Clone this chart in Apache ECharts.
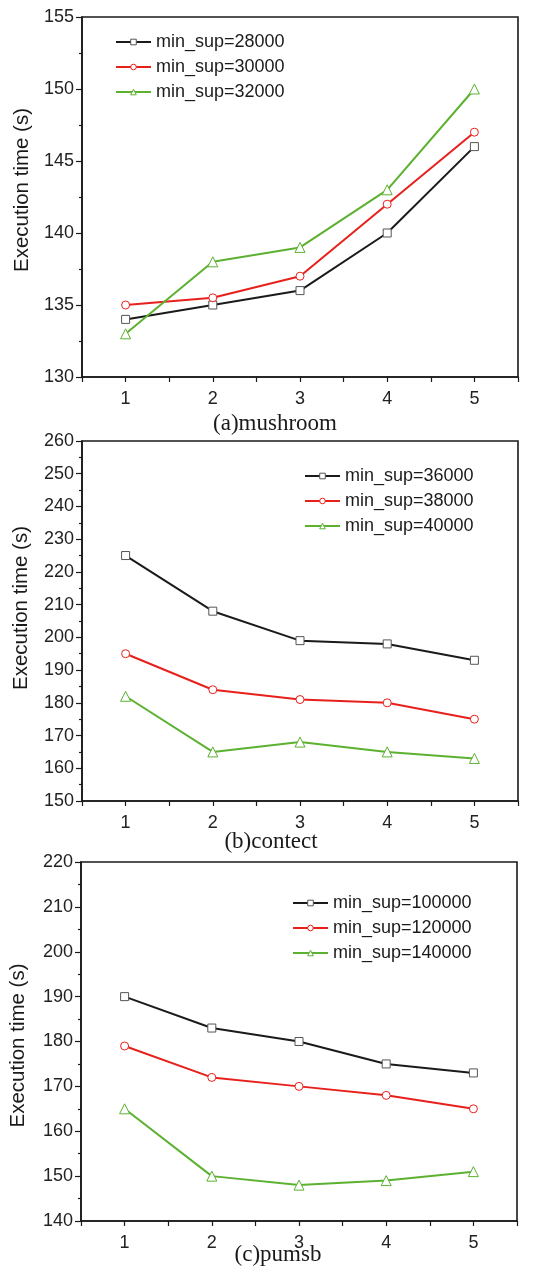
<!DOCTYPE html>
<html><head><meta charset="utf-8">
<script src="https://cdn.jsdelivr.net/npm/echarts@6/dist/echarts.min.js"></script>
<style>html,body{margin:0;padding:0;background:#fff}#c{width:541px;height:1271px}</style>
</head><body><div id="c"></div>
<script>
const xValues = [1, 2, 3, 4, 5];

const mushroomNames = ['min_sup=28000', 'min_sup=30000', 'min_sup=32000'];
const mushroom28000 = [134, 135, 136, 140, 146];
const mushroom30000 = [135, 135.5, 137, 142, 147];
const mushroom32000 = [133, 138, 139, 143, 150];

const contectNames = ['min_sup=36000', 'min_sup=38000', 'min_sup=40000'];
const contect36000 = [225, 208, 199, 198, 193];
const contect38000 = [195, 184, 181, 180, 175];
const contect40000 = [182, 165, 168, 165, 163];

const pumsbNames = ['min_sup=100000', 'min_sup=120000', 'min_sup=140000'];
const pumsb100000 = [190, 183, 180, 175, 173];
const pumsb120000 = [179, 172, 170, 168, 165];
const pumsb140000 = [165, 150, 148, 149, 151];

const panelTitles = ['(a)mushroom', '(b)contect', '(c)pumsb'];
const yTitle = 'Execution time (s)';
const yRanges = [[130, 155, 5], [150, 260, 10], [140, 220, 10]];

const colors = ['#1a1a1a', '#e8201c', '#5cb130'];
const symbols = ['rect', 'circle', 'triangle'];

const panels = [
  {names: mushroomNames, data: [mushroom28000, mushroom30000, mushroom32000]},
  {names: contectNames, data: [contect36000, contect38000, contect40000]},
  {names: pumsbNames, data: [pumsb100000, pumsb120000, pumsb140000]}
];

const grids = [
  {left: 82, right: 23, top: 17, height: 360},
  {left: 82, right: 23, top: 441, height: 360},
  {left: 81, right: 24, top: 862, height: 359}
];
const xNameGaps = [35, 29, 22];
const xNamePads = [[0, 50, 0, 0], [0, 58, 0, 0], [0, 42, 0, 0]];
const yNameGaps = [49, 50, 52];
const yNamePads = [[0, 0, 0, 14], [0, 0, 0, 26], [0, 8, 0, 0]];
const legendPos = [
  {left: 115, top: 33},
  {left: 304, top: 467},
  {left: 292, top: 894}
];

const axisLabelFont = {fontFamily: 'Liberation Sans, Arial, sans-serif', fontSize: 18, color: '#222'};

const option = {
  animation: false,
  backgroundColor: '#fff',
  grid: grids.map(g => Object.assign({show: true, borderColor: '#1a1a1a', borderWidth: 1.6, backgroundColor: 'transparent', containLabel: false, outerBoundsMode: 'none'}, g)),
  xAxis: panelTitles.map((t, i) => ({
    type: 'value', gridIndex: i, min: 0.5, max: 5.5, interval: 0.5,
    name: t, nameLocation: 'middle', nameGap: xNameGaps[i], nameMoveOverlap: false,
    nameTextStyle: {fontFamily: 'Liberation Serif, Times New Roman, serif', fontSize: 23, color: '#1a1a1a', padding: xNamePads[i]},
    axisLine: {lineStyle: {color: '#1a1a1a', width: 1.6}},
    axisTick: {inside: false, length: 5, lineStyle: {color: '#1a1a1a', width: 1.2}},
    axisLabel: Object.assign({margin: 13, formatter: v => Number.isInteger(v) ? String(v) : ''}, axisLabelFont),
    splitLine: {show: false}
  })),
  yAxis: yRanges.map((r, i) => ({
    type: 'value', gridIndex: i, min: r[0], max: r[1], interval: r[2],
    name: yTitle, nameLocation: 'middle', nameGap: yNameGaps[i], nameRotate: 90, nameMoveOverlap: false,
    nameTextStyle: {fontFamily: 'Liberation Sans, Arial, sans-serif', fontSize: 20.5, color: '#1a1a1a', padding: yNamePads[i]},
    axisLine: {show: true, lineStyle: {color: '#1a1a1a', width: 1.6}},
    axisTick: {show: true, inside: false, length: 6, lineStyle: {color: '#1a1a1a', width: 1.2}},
    minorTick: {show: true, splitNumber: 2, length: 3, lineStyle: {color: '#1a1a1a', width: 1.2}},
    axisLabel: Object.assign({margin: 8}, axisLabelFont),
    splitLine: {show: false}
  })),
  legend: panels.map((p, i) => ({
    data: p.names, orient: 'vertical', left: legendPos[i].left, top: legendPos[i].top,
    padding: 0, itemWidth: 35, itemHeight: 7, itemGap: 7,
    itemStyle: {borderWidth: 1},
    textStyle: {fontFamily: 'Liberation Sans, Arial, sans-serif', fontSize: 18, color: '#1a1a1a'}
  })),
  series: []
};

panels.forEach((p, i) => {
  p.names.forEach((n, k) => {
    option.series.push({
      type: 'line', name: n, xAxisIndex: i, yAxisIndex: i,
      data: xValues.map((x, j) => [x, p.data[k][j]]),
      symbol: symbols[k], symbolSize: k === 2 ? 10 : 8,
      lineStyle: {color: colors[k], width: 2},
      itemStyle: {color: '#fff', borderColor: k === 0 ? '#555' : colors[k], borderWidth: 1},
      color: colors[k]
    });
  });
});

const chart = echarts.init(document.getElementById('c'), null, {renderer: 'canvas'});
chart.setOption(option);
</script>
</body></html>
